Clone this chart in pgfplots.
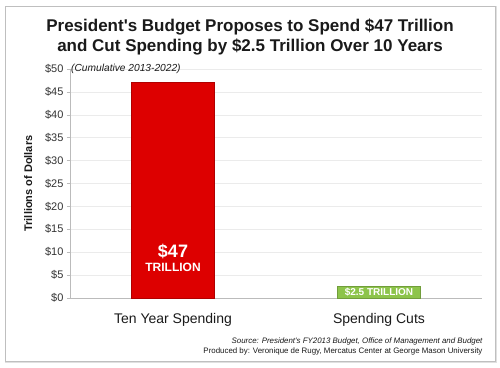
\documentclass[border=0pt]{standalone}
\usepackage{pgfplots}
\pgfplotsset{compat=1.18}
\usepackage{fontspec}
\setmainfont{Liberation Sans}[Ligatures=TeXOff]
\definecolor{barred}{HTML}{DD0000}
\definecolor{barredline}{HTML}{B00000}
\definecolor{bargreen}{HTML}{8DC44A}
\definecolor{gridc}{HTML}{EBEBEB}
\definecolor{axc}{HTML}{BBBBBB}
\definecolor{txt}{HTML}{1A1A1A}
\definecolor{ticktxt}{HTML}{333333}
\begin{document}
\begin{tikzpicture}
\useasboundingbox (0pt,0pt) rectangle (500pt,367pt);
\draw[color=black!12,line width=2pt] (6pt,5pt) rectangle (496pt,360pt);
\draw[color=black!25,line width=0.8pt,fill=white] (5pt,6pt) rectangle (495pt,361pt);
\node[font=\bfseries\fontsize{17}{20}\selectfont,align=center,text=txt] at (250pt,330.5pt) {President's Budget Proposes to Spend \$47 Trillion\\and Cut Spending by \$2.5 Trillion Over 10 Years};
\begin{axis}[
  at={(70pt,69pt)}, anchor=south west,
  width=412pt, height=229pt, scale only axis,
  xmin=-0.5, xmax=1.5, ymin=0, ymax=50,
  ytick={0,5,...,50},
  yticklabel={\$\pgfmathprintnumber{\tick}},
  /pgf/number format/assume math mode=true,
  yticklabel style={font=\fontsize{11}{13}\selectfont,text=ticktxt},
  xtick={0,1},
  xticklabels={Ten Year Spending,Spending Cuts},
  xticklabel style={font=\fontsize{14}{16}\selectfont,text=txt,yshift=-9pt},
  major x tick style={draw=none},
  extra x ticks={-0.5,0.5,1.5},
  extra x tick labels={},
  extra x tick style={major tick length=4pt,tick style={draw=axc,line width=0.6pt}, tick align=outside, grid=none},
  ytick style={draw=axc,line width=0.6pt},
  tick align=outside, major tick length=3pt,
  ytick pos=left, xtick pos=bottom,
  ymajorgrids, grid style={draw=gridc,line width=0.6pt},
  axis line style={draw=axc,line width=0.7pt},
  axis x line*=bottom, axis y line*=left,
  ylabel={\bfseries Trillions of Dollars},
  ylabel style={font=\fontsize{11}{13}\selectfont,text=txt},
  ylabel shift=6pt,
  clip=false,
]
\addplot[ybar, bar width=83pt, fill=barred, draw=barredline, line width=0.6pt] coordinates {(0,47)};
\addplot[ybar, bar width=83pt, fill=bargreen, draw=bargreen!80!black, line width=0.5pt] coordinates {(1,2.5)};
\node[font=\bfseries\fontsize{18}{20}\selectfont,text=white] at (axis cs:0,10.2) {\$47};
\node[font=\bfseries\fontsize{12}{14}\selectfont,text=white] at (axis cs:0,6.6) {TRILLION};
\node[font=\bfseries\fontsize{10}{12}\selectfont,text=white] at (axis cs:1,1.25) {\$2.5 TRILLION};
\node[font=\itshape\fontsize{10.2}{12}\selectfont,text=txt,anchor=west,inner sep=0pt] at (axis cs:-0.495,50) {(Cumulative 2013-2022)};
\end{axis}
\node[font=\itshape\fontsize{7.9}{9}\selectfont,text=txt,anchor=east] at (486pt,26pt) {Source: President's FY2013 Budget, Office of Management and Budget};
\node[font=\fontsize{7.9}{9}\selectfont,text=txt,anchor=east] at (486pt,15.5pt) {Produced by: Veronique de Rugy, Mercatus Center at George Mason University};
\end{tikzpicture}
\end{document}
